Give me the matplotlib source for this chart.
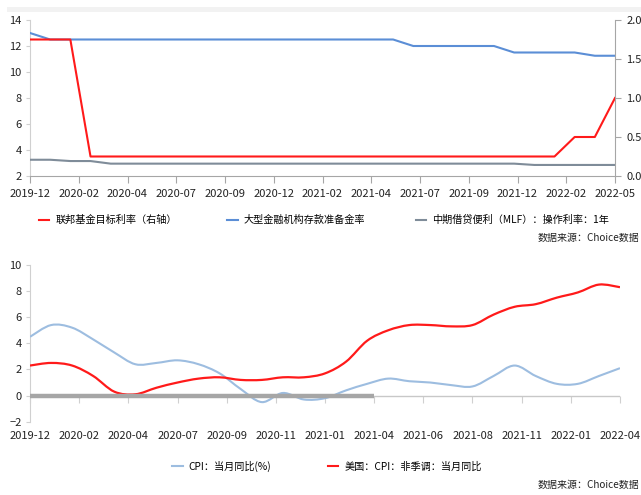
import numpy as np
import matplotlib
matplotlib.use("Agg")
import matplotlib.pyplot as plt
from matplotlib.path import Path
from matplotlib.patches import PathPatch, Rectangle
from matplotlib.lines import Line2D
from matplotlib import font_manager as fm

# ---------------- data ----------------
# top chart: monthly, 2019-12 .. 2022-05
fed_rate = [1.75, 1.75, 1.75, 0.25, 0.25, 0.25, 0.25, 0.25, 0.25, 0.25,
            0.25, 0.25, 0.25, 0.25, 0.25, 0.25, 0.25, 0.25, 0.25, 0.25,
            0.25, 0.25, 0.25, 0.25, 0.25, 0.25, 0.25, 0.5, 0.5, 1.0]
rrr_large = [13.0, 12.5, 12.5, 12.5, 12.5, 12.5, 12.5, 12.5, 12.5, 12.5,
             12.5, 12.5, 12.5, 12.5, 12.5, 12.5, 12.5, 12.5, 12.5, 12.0,
             12.0, 12.0, 12.0, 12.0, 11.5, 11.5, 11.5, 11.5, 11.25, 11.25]
mlf_1y = [3.25, 3.25, 3.15, 3.15, 2.95, 2.95, 2.95, 2.95, 2.95, 2.95,
          2.95, 2.95, 2.95, 2.95, 2.95, 2.95, 2.95, 2.95, 2.95, 2.95,
          2.95, 2.95, 2.95, 2.95, 2.95, 2.85, 2.85, 2.85, 2.85, 2.85]
top_ticklabels = ["2019-12", "2020-02", "2020-04", "2020-07", "2020-09", "2020-12",
                  "2021-02", "2021-04", "2021-07", "2021-09", "2021-12", "2022-02", "2022-05"]

# bottom chart: monthly, 2019-12 .. 2022-04
cpi_cn = [4.5, 5.4, 5.2, 4.3, 3.3, 2.4, 2.5, 2.7, 2.4, 1.7, 0.5, -0.5, 0.2, -0.3,
          -0.2, 0.4, 0.9, 1.3, 1.1, 1.0, 0.8, 0.7, 1.5, 2.3, 1.5, 0.9, 0.9, 1.5, 2.1]
cpi_us = [2.3, 2.5, 2.3, 1.5, 0.3, 0.1, 0.6, 1.0, 1.3, 1.4, 1.2, 1.2, 1.4, 1.4,
          1.7, 2.6, 4.2, 5.0, 5.4, 5.4, 5.3, 5.4, 6.2, 6.8, 7.0, 7.5, 7.9, 8.5, 8.3]
bot_ticklabels = ["2019-12", "2020-02", "2020-04", "2020-07", "2020-09", "2020-11",
                  "2021-01", "2021-04", "2021-06", "2021-08", "2021-11", "2022-01", "2022-04"]

top_legend = ["联邦基金目标利率（右轴）", "大型金融机构存款准备金率", "中期借贷便利（MLF）：操作利率：1年"]
bot_legend = ["CPI：当月同比(%)", "美国：CPI：非季调：当月同比"]
source = "数据来源：Choice数据"

# ---------------- style ----------------
CJK = ["Noto Sans CJK SC", "DejaVu Sans"]
_names = {f.name for f in fm.fontManager.ttflist}
_narrow = [n for n in ("Liberation Sans Narrow", "DejaVu Sans Condensed") if n in _names]
NUM = _narrow + ["Noto Sans CJK SC", "DejaVu Sans"]
RED = "#ff1a1a"
BLUE = "#5b8ed6"
GRAY = "#7f8c99"
LBLUE = "#9dbde0"

W, H = 641, 495
fig = plt.figure(figsize=(W / 100, H / 100), dpi=100)

# light band at top
fig.add_artist(Rectangle((7 / W, 1 - 12 / H), 1, 5 / H, transform=fig.transFigure,
                         facecolor="#f2f2f2", edgecolor="none"))


def fa(x0, y0, x1, y1):
    return [x0 / W, 1 - y1 / H, (x1 - x0) / W, (y1 - y0) / H]


def smooth_path(x, y, t=0.5):
    x = np.asarray(x, float)
    y = np.asarray(y, float)
    n = len(x)
    verts = [(x[0], y[0])]
    codes = [Path.MOVETO]
    for i in range(n - 1):
        p0 = np.array([x[max(i - 1, 0)], y[max(i - 1, 0)]])
        p1 = np.array([x[i], y[i]])
        p2 = np.array([x[i + 1], y[i + 1]])
        p3 = np.array([x[min(i + 2, n - 1)], y[min(i + 2, n - 1)]])
        c1 = p1 + (p2 - p0) * t / 3
        c2 = p2 - (p3 - p1) * t / 3
        verts += [tuple(c1), tuple(c2), tuple(p2)]
        codes += [Path.CURVE4] * 3
    return Path(verts, codes)


def style_ticks(ax, size=8):
    for lab in ax.get_xticklabels() + ax.get_yticklabels():
        lab.set_family(NUM)
        lab.set_stretch("condensed")
        lab.set_fontsize(size)
        lab.set_color("#222222")


# ---------------- top chart ----------------
ax1 = fig.add_axes(fa(30, 20, 615, 176))
x_top = np.arange(len(rrr_large))
ax1.plot(x_top, rrr_large, color=BLUE, lw=1.5, zorder=3)
ax1.plot(x_top, mlf_1y, color=GRAY, lw=1.5, zorder=3)
ax1.set_xlim(0, len(rrr_large) - 1)
ax1.set_ylim(2, 14)
ax1.set_yticks(np.arange(2, 15, 2))
ax1.set_xticks(np.linspace(0, len(rrr_large) - 1, len(top_ticklabels)))
ax1.set_xticklabels(top_ticklabels)

ax1r = ax1.twinx()
ax1r.plot(x_top, fed_rate, color=RED, lw=1.5, zorder=4)
ax1r.set_ylim(0, 2)
ax1r.set_yticks(np.arange(0, 2.01, 0.5))
ax1r.set_yticklabels([f"{v:.1f}" for v in np.arange(0, 2.01, 0.5)])

for a in (ax1, ax1r):
    a.spines["top"].set_visible(False)
    a.patch.set_visible(False)
ax1.spines["right"].set_visible(False)
ax1.spines["left"].set_color("#d0d0d0")
ax1.spines["bottom"].set_color("#a6a6a6")
ax1r.spines["left"].set_visible(False)
ax1r.spines["bottom"].set_visible(False)
ax1r.spines["right"].set_color("#a6a6a6")
ax1.tick_params(axis="y", length=3, color="#d0d0d0", pad=3)
ax1.tick_params(axis="x", length=5, color="#a6a6a6", pad=4)
ax1r.tick_params(axis="y", length=4, color="#a6a6a6", pad=4)
style_ticks(ax1)
style_ticks(ax1r)

handles_top = [Line2D([], [], color=RED, lw=1.5), Line2D([], [], color=BLUE, lw=1.5),
               Line2D([], [], color=GRAY, lw=1.5)]
fig.legend(handles_top, top_legend, loc="center", bbox_to_anchor=(324 / W, 1 - 220 / H),
           ncol=3, frameon=False, handlelength=1.0, handletextpad=0.6, columnspacing=5.0,
           prop={"family": CJK, "size": 7.3})
fig.text(639 / W, 1 - 238 / H, source, family=CJK, fontsize=7.2, va="center", ha="right",
         color="#222222")

# ---------------- bottom chart ----------------
ax2 = fig.add_axes(fa(30, 265, 620, 421.7))
x_bot = np.arange(len(cpi_cn))
ax2.add_patch(PathPatch(smooth_path(x_bot, cpi_cn), facecolor="none", edgecolor=LBLUE,
                        lw=1.5, zorder=3))
ax2.add_patch(PathPatch(smooth_path(x_bot, cpi_us), facecolor="none", edgecolor=RED,
                        lw=1.6, zorder=4))
ax2.set_xlim(0, len(cpi_cn) - 1)
ax2.set_ylim(-2, 10)
ax2.set_yticks(np.arange(-2, 11, 2))
bt = np.linspace(0, len(cpi_cn) - 1, len(bot_ticklabels))
ax2.set_xticks(bt)
ax2.set_xticklabels(bot_ticklabels)
ax2.tick_params(axis="x", length=0, pad=7)
ax2.tick_params(axis="y", length=3, color="#d0d0d0", pad=3)
for s in ("top", "right", "bottom"):
    ax2.spines[s].set_visible(False)
ax2.spines["left"].set_color("#d0d0d0")
style_ticks(ax2)

# zero axis line with tick marks
ax2.axhline(0, color="#c8c8c8", lw=1.0, zorder=2)
sec = ax2.secondary_xaxis(2 / 12)
sec.set_xticks(bt)
sec.set_xticklabels([])
sec.tick_params(axis="x", length=5, color="#d0d0d0", direction="out")
sec.spines["bottom"].set_visible(False)
# thick gray baseline segment (from first tick to 2021-04 tick)
ax2.plot([bt[0], bt[7]], [0, 0], color="#a6a6a6", lw=3.2, zorder=5, solid_capstyle="butt")

handles_bot = [Line2D([], [], color=LBLUE, lw=1.5), Line2D([], [], color=RED, lw=1.5)]
fig.legend(handles_bot, bot_legend, loc="center", bbox_to_anchor=(327 / W, 1 - 466 / H),
           ncol=2, frameon=False, handlelength=1.0, handletextpad=0.6, columnspacing=5.6,
           prop={"family": CJK, "size": 7.3})
fig.text(639 / W, 1 - 485 / H, source, family=CJK, fontsize=7.2, va="center", ha="right",
         color="#222222")

fig.savefig("out.png", dpi=100)
